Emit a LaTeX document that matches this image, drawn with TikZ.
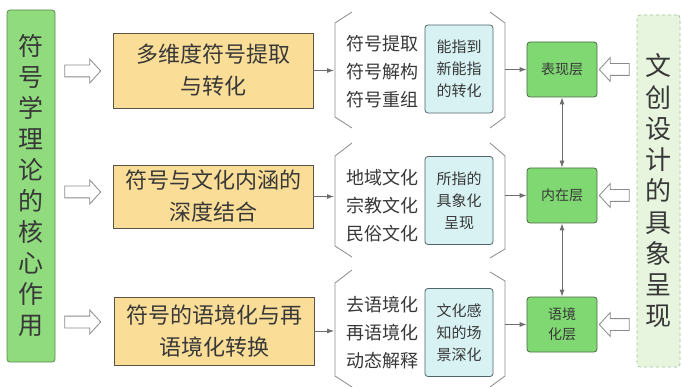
\documentclass[tikz,border=0pt]{standalone}
\usepackage{fontspec}
\setmainfont{Noto Sans CJK SC}
\usetikzlibrary{arrows.meta,positioning,shapes.arrows}

\definecolor{coregreen}{HTML}{8FDB7E}
\definecolor{coreedge}{HTML}{5A8C4A}
\definecolor{stagefill}{HTML}{FADE98}
\definecolor{stageedge}{HTML}{5A5448}
\definecolor{meanfill}{HTML}{D8F2F4}
\definecolor{meanedge}{HTML}{50646A}
\definecolor{layerfill}{HTML}{80D872}
\definecolor{layeredge}{HTML}{4A6A42}
\definecolor{designfill}{HTML}{E8F5DE}
\definecolor{designedge}{HTML}{A4C498}
\definecolor{inkgray}{HTML}{383838}
\definecolor{linegray}{HTML}{6E6E6E}

\begin{document}
\begin{tikzpicture}[x=1pt, y=-1pt,
  core/.style={
    draw=coreedge, fill=coregreen, thick, rounded corners=3pt,
    minimum width=48pt, minimum height=352pt, inner sep=0pt,
    align=center, text=inkgray, font=\fontsize{25}{31}\selectfont,
  },
  stage/.style={
    draw=stageedge, fill=stagefill, thick, minimum width=200pt,
    align=center, text=inkgray, font=\fontsize{22}{32}\selectfont,
  },
  items/.style={align=center, text=inkgray, font=\fontsize{18}{28}\selectfont},
  meaning/.style={
    draw=meanedge, fill=meanfill, thick, rounded corners=3pt,
    minimum width=68pt, minimum height=88pt, inner sep=0pt,
    align=center, text=inkgray, font=\fontsize{15}{22}\selectfont,
  },
  layer/.style={
    draw=layeredge, fill=layerfill, thick, rounded corners=3pt,
    minimum width=70pt, minimum height=55pt, inner sep=0pt,
    align=center, text=inkgray, font=\fontsize{14}{20}\selectfont,
  },
  design/.style={
    draw=designedge, fill=designfill, thick, dashed, rounded corners=3pt,
    minimum width=43pt, minimum height=352pt, inner sep=0pt,
    align=center, text=inkgray, font=\fontsize{26}{31.25}\selectfont,
  },
  hollow/.style={
    single arrow, draw=linegray!80, fill=white, thick, inner sep=5.5pt,
    single arrow head extend=6pt, single arrow tip angle=95,
  },
  link/.style={-{Latex[length=7pt,width=5pt]}, thick, linegray},
  both/.style={{Latex[length=7pt,width=5pt]}-{Latex[length=7pt,width=5pt]}, thick, linegray},
  brace/.style={thick, linegray!80, line join=round},
]

\useasboundingbox[fill=white] (0,0) rectangle (682,387);

% Core column on the left
\node[core] (core) at (31,186) {符\\号\\学\\理\\论\\的\\核\\心\\作\\用};

% Hollow arrows into the three stages
\node[hollow, minimum height=36pt] (h1) at (80,71) {};
\node[hollow, minimum height=36pt] (h2) at (80,192) {};
\node[hollow, minimum height=36pt] (h3) at (80,322) {};

% Stage boxes
\node[stage, minimum height=75pt] (s1) at (213,70.5) {多维度符号提取\\与转化};
\node[stage, minimum height=63pt] (s2) at (213,196.5) {符号与文化内涵的\\深度结合};
\node[stage, minimum height=68pt] (s3) at (214,331) {符号的语境化与再\\语境化转换};

% Brace tips
\coordinate (b1) at (334,70.5);
\coordinate (b2) at (334,196.5);
\coordinate (b3) at (334,331);

\draw[brace] (352,12) -- (335,23) -- (335,117) -- (352,128);
\draw[brace] (352,143) -- (335,156) -- (335,246) -- (352,257);
\draw[brace] (352,270) -- (335,283) -- (335,376) -- (352,387);

\draw[link] (s1.east) -- (b1);
\draw[link] (s2.east) -- (b2);
\draw[link] (s3.east) -- (b3);

% Operations in each stage
\node[items] (i1) at (382,72) {符号提取\\符号解构\\符号重组};
\node[items] (i2) at (382,206) {地域文化\\宗教文化\\民俗文化};
\node[items] (i3) at (382,333) {去语境化\\再语境化\\动态解释};

% Meaning boxes
\node[meaning] (m1) at (459,69) {能指到\\新能指\\的转化};
\node[meaning] (m2) at (459,200.5) {所指的\\具象化\\呈现};
\node[meaning] (m3) at (459,332.5) {文化感\\知的场\\景深化};

% Closing braces behind the meaning boxes
\draw[brace] (490,12) -- (505,23) -- (505,117) -- (490,128);
\draw[brace] (490,143) -- (505,156) -- (505,249) -- (490,258);
\draw[brace] (490,272) -- (505,281) -- (505,376) -- (490,387);

% Layers
\node[layer] (l1) at (562,69.5) {表现层};
\node[layer] (l2) at (562,195.5) {内在层};
\node[layer] (l3) at (562,324.5) {语境\\化层};

\coordinate (r1) at (505,69.5);
\coordinate (r2) at (505,195.5);
\coordinate (r3) at (505,324.5);

\draw[link] (r1) -- (l1.west);
\draw[link] (r2) -- (l2.west);
\draw[link] (r3) -- (l3.west);

\draw[both] (l1.south) -- (l2.north);
\draw[both] (l2.south) -- (l3.north);

% Design column on the right
\node[design] (design) at (658.5,191) {文\\创\\设\\计\\的\\具\\象\\呈\\现};

\node[hollow, minimum height=30pt, shape border rotate=180] (g1) at (617,69.5) {};
\node[hollow, minimum height=30pt, shape border rotate=180] (g2) at (617,195.5) {};
\node[hollow, minimum height=30pt, shape border rotate=180] (g3) at (617,324.5) {};

\end{tikzpicture}
\end{document}
